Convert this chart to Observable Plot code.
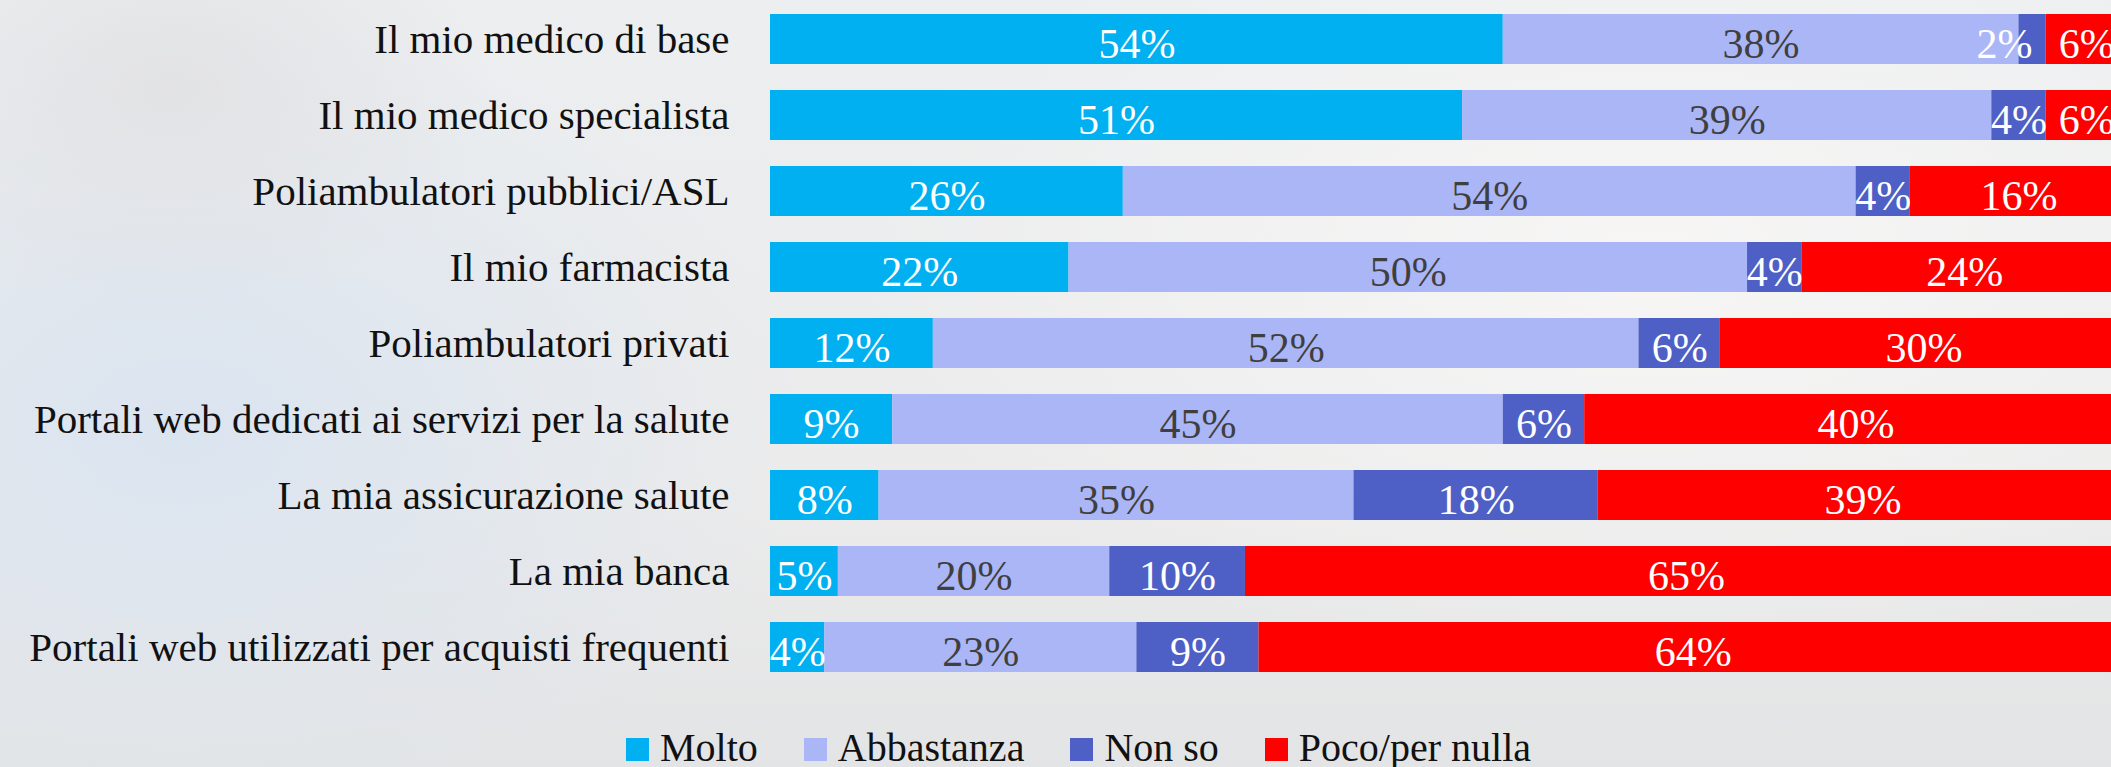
<!DOCTYPE html>
<html>
<head>
<meta charset="utf-8">
<script src="https://cdn.jsdelivr.net/npm/d3@7"></script>
<script src="https://cdn.jsdelivr.net/npm/@observablehq/plot@0.6"></script>
<style>
  html, body { margin: 0; padding: 0; }
  body {
    width: 2111px; height: 767px; overflow: hidden; position: relative;
    font-family: "Liberation Serif", serif;
    background:
      radial-gradient(ellipse 330px 230px at 170px 90px, rgba(226,226,228,0.95), rgba(226,226,228,0) 100%),
      radial-gradient(ellipse 620px 420px at 180px 430px, rgba(218,228,240,1), rgba(218,228,240,0) 100%),
      radial-gradient(ellipse 800px 420px at 1650px 260px, rgba(247,246,245,1), rgba(247,246,245,0) 100%),
      linear-gradient(to bottom, #eceef0 0%, #ebebeb 65%, #e3e4e5 100%);
  }
  #chart { position: absolute; left: 0; top: 0; }
  #chart svg { max-width: none !important; }
  #legend {
    position: absolute; left: 626px; top: 728px;
    font-size: 40px; line-height: 40px; color: #111; white-space: nowrap;
  }
  #legend .item { display: inline-block; margin-right: 46px; }
  #legend .sw { display: inline-block; width: 23px; height: 23px; margin-right: 11px; vertical-align: baseline; }
</style>
</head>
<body>
<div id="chart"></div>
<div id="legend"></div>
<script>
const categories = [
  "Il mio medico di base",
  "Il mio medico specialista",
  "Poliambulatori pubblici/ASL",
  "Il mio farmacista",
  "Poliambulatori privati",
  "Portali web dedicati ai servizi per la salute",
  "La mia assicurazione salute",
  "La mia banca",
  "Portali web utilizzati per acquisti frequenti"
];
const seriesNames = ["Molto", "Abbastanza", "Non so", "Poco/per nulla"];
const seriesColors = ["#00b0f0", "#abb6f7", "#4e60c5", "#ff0000"];
const molto      = [54, 51, 26, 22, 12,  9,  8,  5,  4];
const abbastanza = [38, 39, 54, 50, 52, 45, 35, 20, 23];
const nonSo      = [ 2,  4,  4,  4,  6,  6, 18, 10,  9];
const poco       = [ 6,  6, 16, 24, 30, 40, 39, 65, 64];

const seriesValues = [molto, abbastanza, nonSo, poco];
const table = [];
categories.forEach((cat, i) => {
  seriesNames.forEach((s, j) => {
    table.push({cat, series: s, value: seriesValues[j][i]});
  });
});

const FONT = "Liberation Serif, serif";
const stackOpts = (textFn) => Plot.stackX({
  x: "value", y: "cat", z: "series", text: textFn
});
const isDark = d => d.series === "Abbastanza";
const isTiny = d => d.value < 3;

const plot = Plot.plot({
  width: 2127,
  height: 700,
  marginLeft: 770,
  marginRight: 0,
  marginTop: 13,
  marginBottom: 27,
  style: {fontFamily: FONT, fontSize: "41px", background: "transparent", color: "#111", overflow: "visible", maxWidth: "none"},
  x: {domain: [0, 100], axis: null},
  y: {domain: categories, paddingInner: 0.344, paddingOuter: 0, label: null, tickSize: 0, tickPadding: 41},
  color: {domain: seriesNames, range: seriesColors},
  marks: [
    Plot.barX(table, Plot.stackX({x: "value", y: "cat", z: "series", fill: "series"})),
    Plot.text(table, {...stackOpts(d => (isDark(d) || isTiny(d)) ? "" : d.value + "%"),
      fill: "white", fontSize: 42, fontFamily: FONT, dy: 5}),
    Plot.text(table, {...stackOpts(d => (!isDark(d) && isTiny(d)) ? d.value + "%" : ""),
      fill: "white", fontSize: 42, fontFamily: FONT, dy: 5, textAnchor: "end"}),
    Plot.text(table, {...stackOpts(d => isDark(d) ? d.value + "%" : ""),
      fill: "#3f3f3f", fontSize: 42, fontFamily: FONT, dy: 5})
  ]
});
document.getElementById("chart").appendChild(plot);

const legend = document.getElementById("legend");
seriesNames.forEach((s, j) => {
  const item = document.createElement("span");
  item.className = "item";
  const sw = document.createElement("span");
  sw.className = "sw";
  sw.style.background = seriesColors[j];
  item.appendChild(sw);
  item.appendChild(document.createTextNode(s));
  legend.appendChild(item);
});
</script>
</body>
</html>
